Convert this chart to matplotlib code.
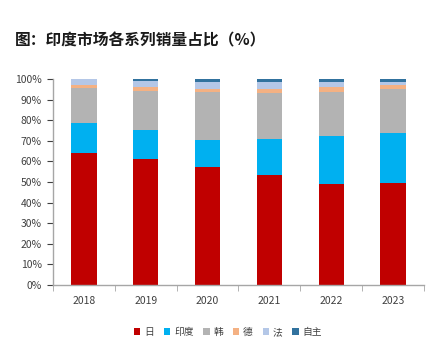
import numpy as np
import matplotlib.pyplot as plt

plt.rcParams['font.family'] = ['Noto Sans CJK SC', 'DejaVu Sans']

years = ['2018', '2019', '2020', '2021', '2022', '2023']
series_names = ['日', '印度', '韩', '德', '法', '自主']
ri = [64.0, 61.2, 57.3, 53.2, 49.0, 49.5]
yindu = [14.6, 13.9, 13.2, 17.7, 23.2, 24.4]
han = [17.2, 19.2, 23.3, 22.5, 21.3, 21.1]
de = [1.3, 1.8, 1.3, 1.7, 2.5, 2.1]
fa = [2.9, 2.9, 3.4, 3.3, 2.4, 1.3]
zizhu = [0.0, 1.0, 1.5, 1.6, 1.6, 1.6]
colors = ['#C00000', '#00B0F0', '#B3B3B3', '#F4B183', '#B4C7E7', '#31729E']


def main():
    fig = plt.figure(figsize=(4.47, 3.41), dpi=100)
    ax = fig.add_axes([53 / 447, 1 - 285 / 341, (424 - 53) / 447, (285 - 79) / 341])

    x = np.arange(len(years))
    bottom = np.zeros(len(years))
    for name, vals, col in zip(series_names, [ri, yindu, han, de, fa, zizhu], colors):
        ax.bar(x, vals, width=0.41, bottom=bottom, color=col, label=name)
        bottom += np.array(vals)

    ax.set_xlim(-0.5, len(years) - 0.5)
    ax.set_ylim(0, 100)
    ax.set_yticks(range(0, 101, 10))
    ax.set_yticklabels([f'{v}%' for v in range(0, 101, 10)])
    ax.set_xticks(x)
    ax.set_xticklabels(years)
    ax.set_xticks(np.arange(-0.5, len(years)), minor=True)
    ax.tick_params(axis='x', which='major', length=0, pad=8)
    ax.tick_params(axis='x', which='minor', length=4, color='#A6A6A6', direction='out')
    ax.tick_params(axis='y', length=4, color='#A6A6A6', pad=4)
    ax.tick_params(labelsize=7.5, colors='#404040')
    ax.tick_params(axis='y', colors='#404040')
    for side in ['top', 'right']:
        ax.spines[side].set_visible(False)
    for side in ['left', 'bottom']:
        ax.spines[side].set_color('#A6A6A6')
        ax.spines[side].set_linewidth(1.0)

    fig.text(15 / 447, 1 - 40 / 341, '图：印度市场各系列销量占比（%）',
             fontsize=11.3, fontweight='bold', va='center', ha='left', color='#1a1a1a')

    fig.legend(loc='center', bbox_to_anchor=(228 / 447, 1 - 332 / 341), ncol=6, frameon=False,
               fontsize=7, handlelength=0.65, handleheight=0.65, handletextpad=0.4,
               columnspacing=1.0, labelcolor='#404040')

    fig.savefig('out.png', dpi=100)


if __name__ == '__main__':
    main()
